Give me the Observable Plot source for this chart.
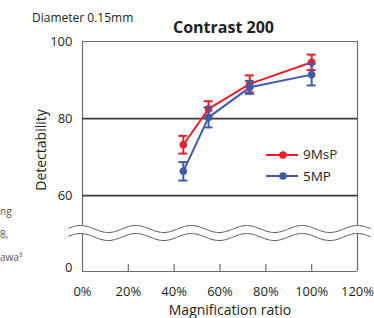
<!DOCTYPE html>
<html><head><meta charset="utf-8">
<script src="https://cdn.jsdelivr.net/npm/d3@7"></script>
<script src="https://cdn.jsdelivr.net/npm/@observablehq/plot@0.6"></script>
<style>
body{margin:0;background:#fff;}
#wrap{position:relative;width:374px;height:318px;font-family:"Open Sans",sans-serif;color:#231f20;overflow:hidden;}
.t{position:absolute;white-space:nowrap;line-height:1;}
</style></head><body><div id="wrap"></div>
<script>
// ---- data ----
const ratios = [44, 55, 73, 100];           // magnification ratio (%)
const msp = [73.2, 82.5, 89.0, 94.6];       // 9MsP detectability
const mspErr = [2.3, 2.0, 2.2, 2.0];
const mp5 = [66.3, 80.3, 88.1, 91.4];       // 5MP detectability
const mp5Err = [2.4, 2.6, 1.7, 2.8];
const seriesNames = ["9MsP", "5MP"];
const seriesColors = ["#e8202a", "#3d5ba9"];
const xTicks = [0, 20, 40, 60, 80, 100, 120];
const yTicks = [60, 80, 100];
const Y0 = 40.3; // display position of "0" below the axis break

const rows = [];
ratios.forEach((r, i) => {
  rows.push({series: seriesNames[0], x: r, y: msp[i], lo: msp[i] - mspErr[i], hi: msp[i] + mspErr[i]});
  rows.push({series: seriesNames[1], x: r, y: mp5[i], lo: mp5[i] - mp5Err[i], hi: mp5[i] + mp5Err[i]});
});

// axis-break decoration (two parallel wavy lines)
const wave = d3.range(-6, 125.8, 0.5).map(x => {
  const w = Math.cos(2 * Math.PI * (x - 120) / 24.17);
  return {x, top: 51.33 + 0.91 * w, bot: 49.25 + 0.91 * w};
});

const seriesMarks = [];
seriesNames.forEach((name, k) => {
  const d = rows.filter(r => r.series === name);
  const c = seriesColors[k];
  seriesMarks.push(
    Plot.line(d, {x: "x", y: "y", stroke: c, strokeWidth: 2}),
    Plot.ruleX(d, {x: "x", y1: "lo", y2: "hi", stroke: c, strokeWidth: 2}),
    Plot.ruleY(d, {x1: "x", x2: "x", y: "hi", insetLeft: -4.5, insetRight: -4.5, stroke: c, strokeWidth: 2}),
    Plot.ruleY(d, {x1: "x", x2: "x", y: "lo", insetLeft: -4.5, insetRight: -4.5, stroke: c, strokeWidth: 2}),
    Plot.dot(d, {x: "x", y: "y", r: 3.8, fill: c, stroke: "none"})
  );
});

const chart = Plot.plot({
  width: 374, height: 318,
  marginLeft: 82, marginRight: 17, marginTop: 41, marginBottom: 47,
  x: {domain: [0, 120], label: null},
  y: {domain: [Y0, 100], label: null},
  style: {fontFamily: "'Open Sans', sans-serif", fontSize: "13px", color: "#231f20", background: "transparent", overflow: "visible"},
  marks: [
    Plot.ruleY([100], {stroke: "#6d6a69", strokeWidth: 1.2}),
    Plot.ruleX([0, 120], {y1: Y0, y2: 100, stroke: "#6d6a69", strokeWidth: 1.2}),
    Plot.ruleY([Y0], {stroke: "#6d6a69", strokeWidth: 1.2}),
    Plot.ruleY([80, 60], {stroke: "#3e3a39", strokeWidth: 1.8}),
    Plot.areaY(wave, {x: "x", y1: "bot", y2: "top", fill: "white"}),
    Plot.line(wave, {x: "x", y: "top", stroke: "#555", strokeWidth: 1}),
    Plot.line(wave, {x: "x", y: "bot", stroke: "#555", strokeWidth: 1}),
    Plot.ruleX(xTicks.slice(1, -1), {x: d => d, y1: Y0, y2: Y0, insetTop: -7, stroke: "#6d6a69", strokeWidth: 1.2}),
    Plot.axisX({ticks: xTicks, tickSize: 0, tickPadding: 15, tickFormat: d => d + "%", fontSize: 13, label: null}),
    Plot.axisY({ticks: yTicks, tickSize: 0, tickPadding: 10, fontSize: 13, label: null}),
    Plot.axisY({ticks: [Y0], tickSize: 0, tickPadding: 10, tickFormat: () => "0", fontSize: 13, dy: -4, label: null}),
    ...seriesMarks
  ]
});
chart.style.position = "absolute";
chart.style.left = "0px";
chart.style.top = "0px";
const wrap = document.getElementById("wrap");
wrap.appendChild(chart);

function addText(txt, css) {
  const el = document.createElement("div");
  el.className = "t";
  el.textContent = txt;
  Object.assign(el.style, css);
  wrap.appendChild(el);
  return el;
}
addText("Diameter 0.15mm", {left: "32px", top: "18px", fontSize: "12px", transform: "translateY(-50%)"});
addText("Contrast 200", {left: "223.5px", top: "27px", fontSize: "16px", fontWeight: "bold", transform: "translate(-50%,-50%)"});
addText("Magnification ratio", {left: "230px", top: "310px", fontSize: "14px", transform: "translate(-50%,-50%)"});
addText("Detectability", {left: "41px", top: "150px", fontSize: "14px", transform: "translate(-50%,-50%) rotate(-90deg)"});
addText("ng", {left: "0px", top: "211px", fontSize: "10px", color: "#555", transform: "translateY(-50%)"});
addText("8,", {left: "0px", top: "234px", fontSize: "10px", color: "#555", transform: "translateY(-50%)"});
addText("awa³", {left: "0px", top: "257px", fontSize: "10px", color: "#555", transform: "translateY(-50%)"});

// legend
const legendY = [154.5, 176];
seriesNames.forEach((name, k) => {
  const ns = "http://www.w3.org/2000/svg";
  const svg = document.createElementNS(ns, "svg");
  svg.setAttribute("width", "34"); svg.setAttribute("height", "10");
  svg.style.position = "absolute"; svg.style.left = "265px"; svg.style.top = (legendY[k] - 5) + "px";
  const ln = document.createElementNS(ns, "line");
  ln.setAttribute("x1", "1"); ln.setAttribute("x2", "33"); ln.setAttribute("y1", "5"); ln.setAttribute("y2", "5");
  ln.setAttribute("stroke", seriesColors[k]); ln.setAttribute("stroke-width", "2");
  const ci = document.createElementNS(ns, "circle");
  ci.setAttribute("cx", "18"); ci.setAttribute("cy", "5"); ci.setAttribute("r", "3.8"); ci.setAttribute("fill", seriesColors[k]);
  svg.appendChild(ln); svg.appendChild(ci);
  wrap.appendChild(svg);
  addText(name, {left: "303px", top: (legendY[k] + 0.5) + "px", fontSize: "13.5px", transform: "translateY(-50%)"});
});
</script></body></html>
